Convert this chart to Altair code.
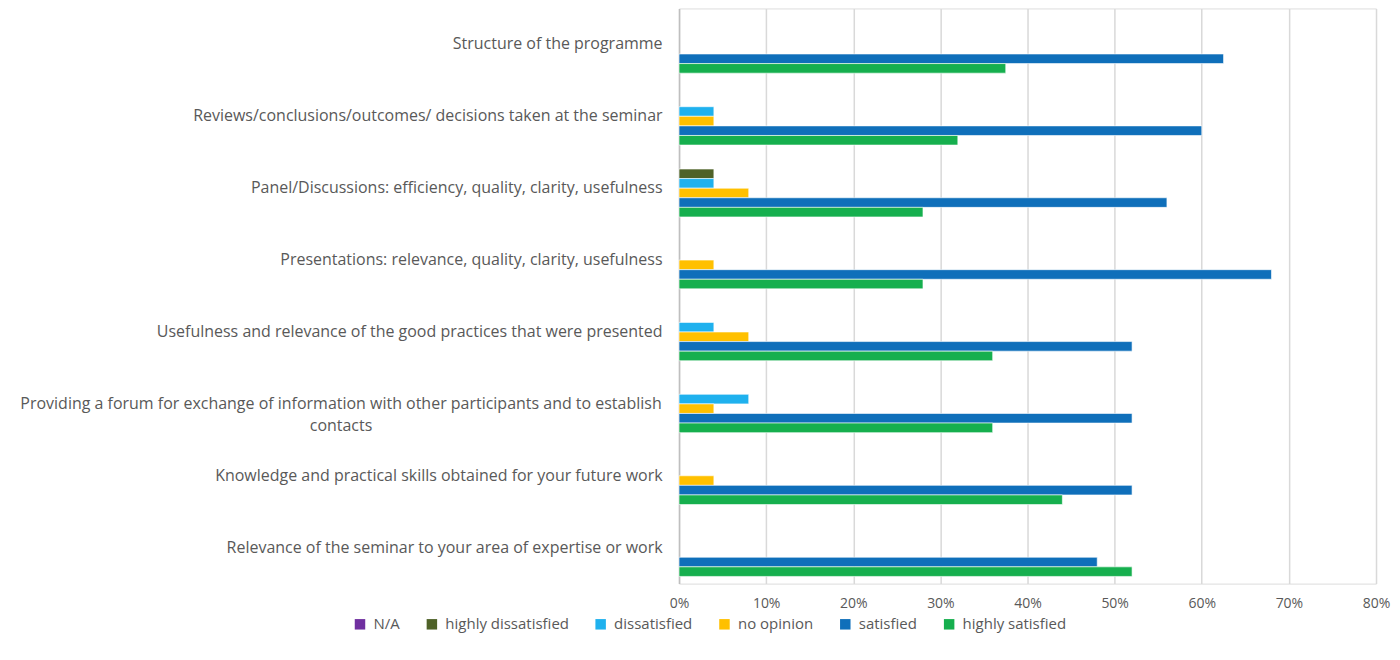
import altair as alt
import pandas as pd

categories = [
    "Structure of the programme",
    "Reviews/conclusions/outcomes/ decisions taken at the seminar",
    "Panel/Discussions: efficiency, quality, clarity, usefulness",
    "Presentations: relevance, quality, clarity, usefulness",
    "Usefulness and relevance of the good practices that were presented",
    "Providing a forum for exchange of information with other participants and to establish|contacts",
    "Knowledge and practical skills obtained for your future work",
    "Relevance of the seminar to your area of expertise or work",
]
series = ["N/A", "highly dissatisfied", "dissatisfied", "no opinion", "satisfied", "highly satisfied"]
colors = ["#7030A0", "#4F6228", "#1FB1EE", "#FFC000", "#0F6FBA", "#16AF4E"]

na = [0, 0, 0, 0, 0, 0, 0, 0]
highly_dissatisfied = [0, 0, 4, 0, 0, 0, 0, 0]
dissatisfied = [0, 4, 4, 0, 4, 8, 0, 0]
no_opinion = [0, 4, 8, 4, 8, 4, 4, 0]
satisfied = [62.5, 60, 56, 68, 52, 52, 52, 48]
highly_satisfied = [37.5, 32, 28, 28, 36, 36, 44, 52]

tick_values = [0, 0.1, 0.2, 0.3, 0.4, 0.5, 0.6, 0.7, 0.8]

rows = []
for s, vals in zip(series, [na, highly_dissatisfied, dissatisfied, no_opinion, satisfied, highly_satisfied]):
    for c, v in zip(categories, vals):
        rows.append({"category": c, "series": s, "value": v / 100.0})
df = pd.DataFrame(rows)

FONT = "Open Sans"
GRAY = "#595959"
two_line = "indexof(datum.value, '|') >= 0"

chart = alt.Chart(df).transform_filter("datum.value > 0").mark_bar(
    stroke="white", strokeWidth=0.6
).encode(
    x=alt.X("value:Q",
            scale=alt.Scale(domain=[0, 0.8], nice=False),
            axis=alt.Axis(values=tick_values, format=".0%", title=None,
                          grid=True, gridColor="#d9d9d9", gridWidth=1.5,
                          domain=False, ticks=False, labelPadding=13, labelFlush=False,
                          labelFont=FONT, labelFontSize=14, labelColor=GRAY)),
    y=alt.Y("category:N", sort=categories,
            scale=alt.Scale(paddingInner=0.2, paddingOuter=0.1),
            axis=alt.Axis(title=None, ticks=False, domain=True, domainColor="#bfbfbf",
                          domainWidth=1.5, labelLimit=900,
                          labelAlign={"condition": {"test": two_line, "value": "center"}, "value": "right"},
                          labelPadding={"condition": {"test": two_line, "value": 339}, "value": 17},
                          labelExpr="split(datum.label, '|')", labelLineHeight=22,
                          labelFont=FONT, labelFontSize=16, labelColor=GRAY)),
    yOffset=alt.YOffset("series:N", sort=series, scale=alt.Scale(domain=series, paddingInner=0, paddingOuter=0)),
    color=alt.Color("series:N",
                    scale=alt.Scale(domain=series, range=colors),
                    legend=alt.Legend(title=None, orient="none", direction="horizontal",
                                      legendX=-327, legendY=609,
                                      symbolType="square", symbolSize=110, symbolStrokeWidth=0,
                                      columnPadding=24, labelFont=FONT, labelFontSize=15,
                                      labelColor=GRAY, labelOffset=6)),
).properties(
    width=698, height=576,
    autosize=alt.AutoSizeParams(type="none"),
    padding={"left": 672, "top": 0, "right": 16, "bottom": 52},
).configure_view(stroke=None).configure(background="white")

chart.save("out.html", embed_options={"renderer": "svg", "actions": False})
